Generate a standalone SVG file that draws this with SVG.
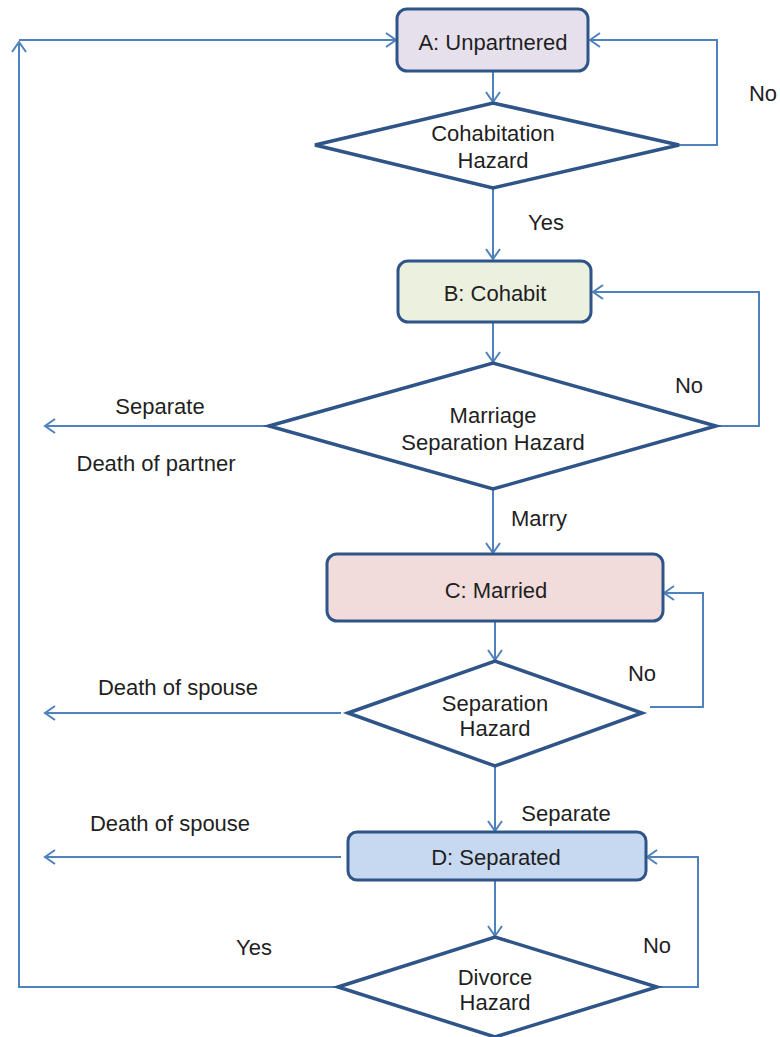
<svg xmlns="http://www.w3.org/2000/svg" width="780" height="1037" viewBox="0 0 780 1037">
<defs>
<marker id="arr" markerWidth="14" markerHeight="16" refX="12" refY="8" orient="auto" markerUnits="userSpaceOnUse">
<path d="M2,1 L12,8 L2,15" fill="none" stroke="#4F81BD" stroke-width="2"/>
</marker>
<style>
.node{stroke:#2F5487;stroke-width:3}
.dia{fill:#FFFFFF;stroke:#2F5487;stroke-width:3.5;stroke-linejoin:miter}
.con{fill:none;stroke:#4F81BD;stroke-width:2}
.arr{marker-end:url(#arr)}
text{font-family:"Liberation Sans",Arial,sans-serif;font-size:22px;fill:#1F1F1F;text-anchor:middle}
</style>
</defs>
<rect width="780" height="1037" fill="#FFFFFF"/>
<g id="connectors">
<line class="con arr" x1="493" y1="72" x2="493" y2="102"/>
<polyline class="con arr" points="679,145 717,145 717,40 590,40"/>
<line class="con arr" x1="493" y1="188" x2="493" y2="259"/>
<line class="con arr" x1="493" y1="322" x2="493" y2="362"/>
<polyline class="con arr" points="716,426 759,426 759,292 593,292"/>
<line class="con arr" x1="269" y1="426" x2="45" y2="426"/>
<line class="con arr" x1="493" y1="489" x2="493" y2="553"/>
<line class="con arr" x1="495" y1="621" x2="495" y2="660"/>
<polyline class="con arr" points="650,707 703,707 703,593 664,593"/>
<line class="con arr" x1="341" y1="713" x2="45" y2="713"/>
<line class="con arr" x1="495" y1="766" x2="495" y2="831"/>
<line class="con arr" x1="341" y1="857" x2="45" y2="857"/>
<polyline class="con arr" points="657,987 698,987 698,857 647,857"/>
<line class="con arr" x1="495" y1="880" x2="495" y2="936"/>
<polyline class="con arr" points="338,987 19,987 19,42"/>
<line class="con arr" x1="19" y1="40" x2="396" y2="40"/>
</g>
<g id="labels">
<text x="763" y="101">No</text>
<text x="546" y="230">Yes</text>
<text x="689" y="393">No</text>
<text x="160" y="414">Separate</text>
<text x="156" y="471">Death of partner</text>
<text x="539" y="526">Marry</text>
<text x="642" y="681">No</text>
<text x="178" y="695">Death of spouse</text>
<text x="566" y="821">Separate</text>
<text x="170" y="831">Death of spouse</text>
<text x="254" y="955">Yes</text>
<text x="657" y="953">No</text>
</g>
<g id="nodeA">
<rect class="node" x="397" y="9" width="191" height="62" rx="10" fill="#E6E0EC"/>
<text x="493" y="50">A: Unpartnered</text>
</g>
<g id="hazard1">
<polygon class="dia" points="315,145 493,103 679,145 493,188"/>
<text x="493" y="141">Cohabitation</text>
<text x="493" y="168">Hazard</text>
</g>
<g id="nodeB">
<rect class="node" x="398" y="261" width="193" height="61" rx="10" fill="#EBF1DE"/>
<text x="495" y="301">B: Cohabit</text>
</g>
<g id="hazard2">
<polygon class="dia" points="269,426 493,363 716,426 493,489"/>
<text x="493" y="423">Marriage</text>
<text x="493" y="450">Separation Hazard</text>
</g>
<g id="nodeC">
<rect class="node" x="327" y="554" width="336" height="67" rx="10" fill="#F2DCDB"/>
<text x="496" y="598">C: Married</text>
</g>
<g id="hazard3">
<polygon class="dia" points="348,713 495,661 642,713 495,766"/>
<text x="495" y="711">Separation</text>
<text x="495" y="736">Hazard</text>
</g>
<g id="nodeD">
<rect class="node" x="348" y="832" width="298" height="48" rx="9" fill="#C6D9F1"/>
<text x="496" y="865">D: Separated</text>
</g>
<g id="hazard4">
<polygon class="dia" points="338,987 495,937 657,987 495,1037"/>
<text x="495" y="985">Divorce</text>
<text x="495" y="1010">Hazard</text>
</g>
</svg>
